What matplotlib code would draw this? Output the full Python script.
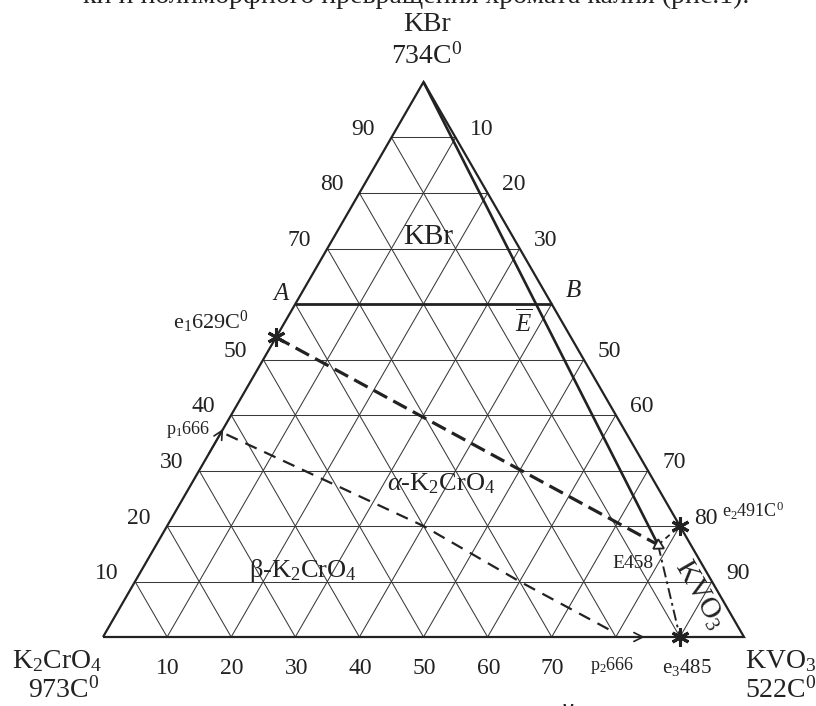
import numpy as np
import matplotlib
matplotlib.use("Agg")
import matplotlib.pyplot as plt

plt.rcParams["font.family"] = ["Liberation Serif", "DejaVu Serif"]
plt.rcParams["mathtext.fontset"] = "custom"
plt.rcParams["mathtext.rm"] = "Liberation Serif"
plt.rcParams["mathtext.it"] = "Liberation Serif:italic"
plt.rcParams["lines.scale_dashes"] = False

INK = "#222222"
GRID = "#3a3a3a"

# ---- composition data, mol % (KBr, KVO3); K2CrO4 is the remainder ----
grid_levels = [10, 20, 30, 40, 50, 60, 70, 80, 90]
left_ticks = ["10", "20", "30", "40", "50", "", "70", "80", "90"]      # KBr %
right_ticks = ["10", "20", "30", "", "50", "60", "70", "80", "90"]     # KVO3 %
bottom_ticks = ["10", "20", "30", "40", "50", "60", "70"]             # KVO3 %

apex_kbr = (100.0, 0.0)
AB_level = 60.0                       # section A-B
e1 = (54.0, 0.0)                      # K2CrO4-KBr eutectic, 629 C
e2 = (20.0, 80.0)                     # KBr-KVO3 eutectic, 491 C
e3 = (0.0, 90.0)                      # K2CrO4-KVO3 eutectic, 485 C
E = (16.6, 78.3)                      # ternary eutectic, 458 C

# alpha/beta K2CrO4 transition curve p1 -> p2
trans_kbr = [36.5, 20.0, 10.0, 1.0]
trans_kvo3 = [1.0, 40.0, 60.0, 79.0]
p1_arrow_kbr = [33.0, 37.5]
p2_arrow_kvo3 = [80.0, 84.5]


def tern(kbr, kvo3):
    kbr = np.asarray(kbr, float)
    kvo3 = np.asarray(kvo3, float)
    return kvo3 + kbr / 2.0, kbr * np.sqrt(3) / 2.0


W, H = 816, 706
fig = plt.figure(figsize=(W / 100, H / 100), dpi=100)
ax = fig.add_axes([103 / W, (H - 637) / H, 641 / W, 555 / H])
ax.set_xlim(0, 100)
ax.set_ylim(0, 100 * np.sqrt(3) / 2)
ax.axis("off")


def line(kbr, kvo3, **kw):
    x, y = tern(kbr, kvo3)
    kw.setdefault("color", INK)
    ax.plot(x, y, clip_on=False, solid_capstyle="butt", **kw)


# grid
for g in grid_levels:
    line([g, g], [0, 100 - g], lw=0.75, color=GRID)            # const KBr
    line([0, 100 - g], [g, g], lw=0.75, color=GRID)            # const KVO3
    line([0, 100 - g], [100 - g, 0], lw=0.75, color=GRID)      # const K2CrO4

# outer triangle
line([0, 0, 100, 0], [0, 100, 0, 0], lw=1.6, solid_joinstyle="miter")

# A-B section and KBr field boundary
line([AB_level, AB_level], [0, 100 - AB_level], lw=2.0)
line([apex_kbr[0], E[0]], [apex_kbr[1], E[1]], lw=1.9)

# monovariant curves
line([e1[0], E[0]], [e1[1], E[1]], lw=2.3, ls=(0, (11, 5)))
line(trans_kbr, trans_kvo3, lw=1.6, ls=(0, (9, 6)))
line([E[0], e2[0]], [E[1], e2[1]], lw=1.3, ls=(0, (4, 3)))
line([E[0], e3[0]], [E[1], e3[1]], lw=1.4, ls=(0, (8, 3, 2, 3)))

# direction arrows at p1 and p2
for (k0, v0), (k1, v1) in [((p1_arrow_kbr[0], 0), (p1_arrow_kbr[1], 0)),
                           ((0, p2_arrow_kvo3[0]), (0, p2_arrow_kvo3[1]))]:
    ax.annotate("", xy=tern(k1, v1), xytext=tern(k0, v0),
                arrowprops=dict(arrowstyle="->", lw=1.2, color=INK,
                                mutation_scale=16, shrinkA=0, shrinkB=0),
                annotation_clip=False)

# eutectic points
for pt in (e1, e2, e3):
    x, y = tern(*pt)
    ax.plot(x, y, marker=(6, 2, 0), ms=13, mew=2.2, color=INK, clip_on=False)

# ternary eutectic marker
xE, yE = tern(*E)
ax.plot(xE, yE, marker=(3, 0, -118), ms=9, mfc="white", mec=INK, mew=1.3,
        clip_on=False)

# ---- text ----
def ftxt(x, y, s, size, **kw):
    kw.setdefault("ha", "center")
    kw.setdefault("va", "center")
    kw.setdefault("color", INK)
    fig.text(x / W, 1 - y / H, s, fontsize=size, **kw)


def atxt(kbr, kvo3, s, dx, dy, size, **kw):
    kw.setdefault("ha", "center")
    kw.setdefault("va", "center")
    kw.setdefault("color", INK)
    ax.annotate(s, xy=tern(kbr, kvo3), xytext=(dx, dy), textcoords="offset pixels",
                fontsize=size, annotation_clip=False, **kw)


# axis numbers
for g, s in zip(grid_levels, left_ticks):
    if s:
        atxt(g, 0, s, -28, 8, 17)
for g, s in zip(grid_levels, right_ticks):
    if s:
        atxt(100 - g, g, s, 26, 8, 17)
for g, s in zip(grid_levels, bottom_ticks):
    atxt(0, g, s, 1, -31, 17)

# heading line and next line, both running off the page
ftxt(416, 3, "ки и полиморфного превращения хромата калия (рис.1).", 20,
     va="baseline")
ftxt(568, 723, "й", 20, va="baseline")

# components
ftxt(427, 31, "KBr", 20, va="baseline")
ftxt(427, 64, r"734C$^0$", 20, va="baseline")
ftxt(57, 661, r"K$_2$CrO$_4$", 20)
ftxt(64, 690, r"973C$^0$", 20)
ftxt(745, 661, r"KVO$_3$", 20, ha="left")
ftxt(745, 690, r"522C$^0$", 20, ha="left")

# points and sections
ftxt(281, 294, "A", 18, style="italic")
ftxt(573, 291, "B", 18, style="italic")
ftxt(524, 323, r"$\overline{E}$", 18, style="italic")
ftxt(173, 322, r"e$_1$629C$^0$", 16, ha="left")
ftxt(188, 429, r"p$_1$666", 13)
ftxt(722, 511, r"e$_2$491C$^0$", 13, ha="left")
ftxt(612, 666, r"p$_2$666", 13)
ftxt(687, 667, r"e$_3$485", 15)
ftxt(633, 563, "E458", 14)

# crystallisation fields
ftxt(428, 237, "KBr", 21)
ftxt(441, 484, r"$\alpha$-K$_2$CrO$_4$", 19)
ftxt(303, 570, r"β-K$_2$CrO$_4$", 19)
ftxt(699, 595, r"KVO$_3$", 21, rotation=-60, rotation_mode="anchor")

fig.savefig("out.png", dpi=100)
